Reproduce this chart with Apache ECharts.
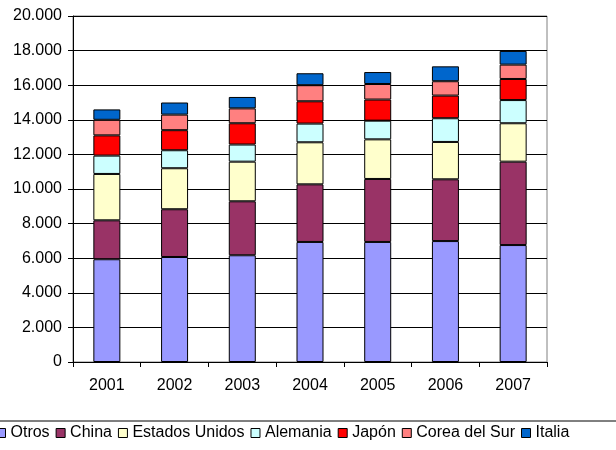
<!DOCTYPE html>
<html>
<head>
<meta charset="utf-8">
<script src="https://cdn.jsdelivr.net/npm/echarts@6/dist/echarts.min.js"></script>
<style>
html, body { margin: 0; padding: 0; background: #fff; }
#chart { width: 616px; height: 450px; }
</style>
</head>
<body>
<div id="chart"></div>
<script>
// años
var years = ["2001", "2002", "2003", "2004", "2005", "2006", "2007"];
// valores por país (apilados)
var otros = [5940, 6070, 6170, 6940, 6940, 6990, 6760];
var china = [2250, 2760, 3120, 3330, 3640, 3570, 4820];
var estadosUnidos = [2680, 2370, 2290, 2430, 2290, 2160, 2220];
var alemania = [1060, 1040, 990, 1080, 1080, 1370, 1340];
var japon = [1170, 1160, 1230, 1290, 1220, 1310, 1220];
var coreaSur = [900, 900, 860, 930, 900, 830, 830];
var italia = [600, 700, 660, 690, 690, 860, 790];

var seriesNames = ["Otros", "China", "Estados Unidos", "Alemania", "Japón", "Corea del Sur", "Italia"];
var seriesData = [otros, china, estadosUnidos, alemania, japon, coreaSur, italia];
var colors = ["#9999FF", "#993366", "#FFFFCC", "#CCFFFF", "#FF0000", "#FF8080", "#0066CC"];

var fontName = "Liberation Sans, Arial, sans-serif";
var myChart = echarts.init(document.getElementById("chart"));

var series = [];
for (var i = 0; i < seriesNames.length; i++) {
	series.push({
		name: seriesNames[i],
		type: "bar",
		stack: "total",
		barWidth: 27,
		data: seriesData[i],
		itemStyle: { color: colors[i], borderColor: "#000", borderWidth: 1 }
	});
}

var option = {
	animation: false,
	textStyle: { fontFamily: fontName },
	grid: { left: 73, right: 69, top: 16, bottom: 88, show: true, borderColor: "#808080", borderWidth: 1, backgroundColor: "#fff" },
	legend: {
		left: -4,
		top: 425,
		padding: 0,
		itemWidth: 9,
		itemHeight: 9,
		itemGap: 6,
		icon: "rect",
		textStyle: { fontSize: 16, color: "#000", fontFamily: fontName },
		itemStyle: { borderColor: "#000", borderWidth: 1 },
		data: seriesNames
	},
	graphic: [{
		type: "rect",
		shape: { x: -5, y: 421, width: 630, height: 40 },
		style: { fill: "none", stroke: "#000", lineWidth: 1 },
		z: -1
	}],
	xAxis: {
		type: "category",
		data: years,
		axisLine: { lineStyle: { color: "#000" } },
		axisTick: { show: true, length: 5, lineStyle: { color: "#000" } },
		axisLabel: { fontSize: 16, color: "#000", margin: 16 }
	},
	yAxis: {
		type: "value",
		min: 0,
		max: 20000,
		interval: 2000,
		axisLine: { show: true, lineStyle: { color: "#000" } },
		axisTick: { show: true, length: 5, lineStyle: { color: "#000" } },
		splitLine: { lineStyle: { color: "#000" } },
		axisLabel: {
			fontSize: 16,
			color: "#000",
			margin: 11,
			formatter: function(v) {
				return v.toString().replace(/\B(?=(\d{3})+(?!\d))/g, ".");
			}
		}
	},
	series: series
};
myChart.setOption(option);
</script>
</body>
</html>
